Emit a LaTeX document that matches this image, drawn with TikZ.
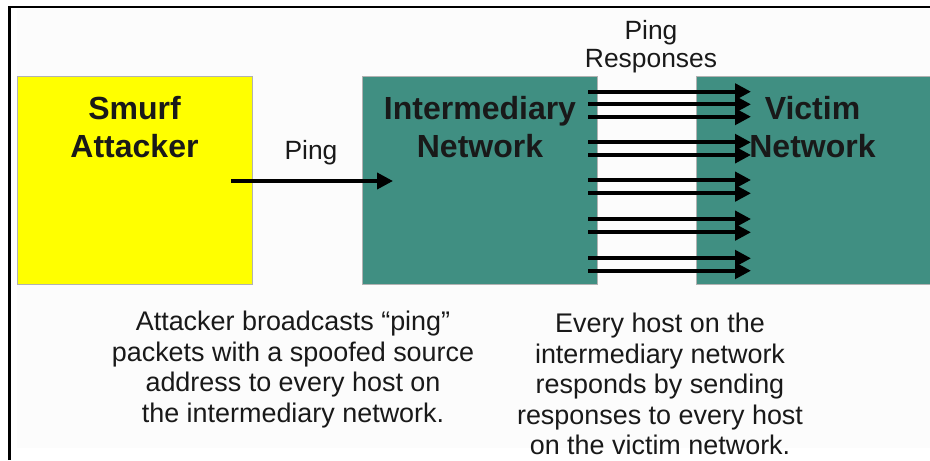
\documentclass[tikz,border=0pt]{standalone}
\usepackage{fontspec}
\setmainfont{Liberation Sans}
\usetikzlibrary{arrows.meta}

\definecolor{netteal}{HTML}{408F82}
\definecolor{smurfyellow}{HTML}{FFFF00}
\definecolor{paper}{HTML}{FCFCFC}

\begin{document}
\begin{tikzpicture}[
  x=0.75pt, y=-0.75pt,
  every node/.style={align=center, inner sep=0pt},
  box/.style={rectangle, draw=gray!60, line width=0.6pt, minimum width=176.25pt, minimum height=156pt},
  title/.style={font=\fontsize{24}{28.5}\selectfont\bfseries, text=black!90},
  caption/.style={font=\fontsize{20.2}{22.8}\selectfont, text=black!90},
  pinglabel/.style={font=\fontsize{19.8}{21}\selectfont, text=black!90},
  ping/.style={line width=2.8pt, -{Triangle[length=12pt, width=12pt]}},
  ]
\useasboundingbox (0,0) rectangle (930,460);

% Frame
\fill[paper] (17,9) rectangle (930,448);
\draw[line width=2.2pt] (9.5,460) |- (930,7);

% Nodes
\node[box, fill=smurfyellow] (attacker) at (134.5,180) {};
\node[box, fill=netteal] (intermediary) at (479.5,180) {};
\node[box, fill=netteal] (victim) at (813.5,180) {};

\node[title] (attackertext) at (134.5,127) {Smurf\\ Attacker};
\node[title] (intermediarytext) at (480,127) {Intermediary\\ Network};
\node[title] (victimtext) at (812.5,127) {Victim\\ Network};

\node[pinglabel] (pingtext) at (311,153) {Ping};
\node[pinglabel] (responsetext) at (651,47) {Ping\\ Responses};

\node[caption] (attackcaption) at (293,369.5) {Attacker broadcasts “ping”\\ packets with a spoofed source\\ address to every host on\\ the intermediary network.};
\node[caption] (victimcaption) at (660,384) {Every host on the\\ intermediary network\\ responds by sending\\ responses to every host\\ on the victim network.};

% Arrows
\coordinate (pingstart) at (231,181);
\coordinate (pingend) at (393,181);
\draw[ping] (pingstart) -- (pingend);

\foreach \y [count=\i] in {91.7, 104.3, 116.7, 142.3, 155, 180, 193.3, 219, 232.3, 258.3, 270.7} {
  \coordinate (src\i) at (588,\y);
  \coordinate (dst\i) at (751,\y);
  \draw[ping] (src\i) -- (dst\i);
}

\end{tikzpicture}
\end{document}
